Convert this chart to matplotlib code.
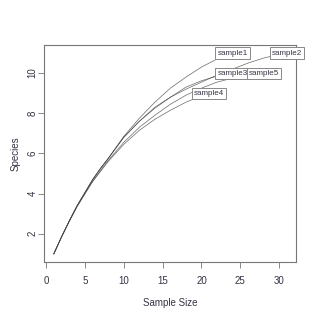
import matplotlib
matplotlib.use("Agg")
import matplotlib.pyplot as plt

plt.rcParams['font.family'] = ['Liberation Sans', 'DejaVu Sans']

# Rarefaction curves (sample size -> expected species)
names = ["sample1", "sample2", "sample3", "sample4", "sample5"]
x1 = [1, 2, 3, 4, 5, 6, 7, 8, 10, 12, 14, 16, 18, 20, 22, 24]
y1 = [1, 1.85, 2.65, 3.4, 4.05, 4.7, 5.25, 5.75, 6.85, 7.75, 8.55, 9.25, 9.8, 10.3, 10.7, 11.0]
x2 = [1, 2, 3, 4, 5, 6, 7, 8, 10, 12, 14, 16, 18, 20, 22, 24, 26, 28, 30, 31]
y2 = [1, 1.85, 2.65, 3.4, 4.05, 4.7, 5.25, 5.75, 6.8, 7.6, 8.3, 8.8, 9.2, 9.55, 9.9, 10.2, 10.5, 10.75, 10.93, 11.0]
x3 = [1, 2, 3, 4, 5, 6, 7, 8, 10, 12, 14, 16, 18, 20, 22, 24]
y3 = [1, 1.85, 2.65, 3.4, 4.05, 4.7, 5.25, 5.75, 6.8, 7.6, 8.25, 8.8, 9.3, 9.62, 9.85, 10.0]
x4 = [1, 2, 3, 4, 5, 6, 7, 8, 10, 12, 14, 16, 18, 20, 21]
y4 = [1, 1.85, 2.62, 3.35, 3.98, 4.6, 5.1, 5.6, 6.45, 7.15, 7.7, 8.15, 8.55, 8.87, 9.0]
x5 = [1, 2, 3, 4, 5, 6, 7, 8, 10, 12, 14, 16, 18, 20, 22, 24, 26, 28]
y5 = [1, 1.85, 2.63, 3.38, 4.0, 4.62, 5.15, 5.65, 6.55, 7.3, 7.9, 8.45, 8.9, 9.25, 9.55, 9.75, 9.9, 10.0]

xs = [x1, x2, x3, x4, x5]
ys = [y1, y2, y3, y4, y5]

xticks = [0, 5, 10, 15, 20, 25, 30]
yticks = [2, 4, 6, 8, 10]

fig = plt.figure(figsize=(3.2, 3.19), dpi=100)
ax = fig.add_axes([0.139, 0.179, 0.787, 0.680])

for x, y in zip(xs, ys):
    ax.plot(x, y, color="#444444", lw=0.5, alpha=0.8)

for name, x, y in zip(names, xs, ys):
    ax.text(x[-1], y[-1], name, ha="center", va="center", fontsize=5.8, color="#333344",
            bbox=dict(boxstyle="square,pad=0.25", fc="white", ec="#888888", lw=0.7))

ax.set_xlim(-0.2, 32.2)
ax.set_ylim(0.6, 11.4)
ax.set_xticks(xticks)
ax.set_yticks(yticks)
ax.set_xticklabels([str(t) for t in xticks], color="#333344", fontsize=7)
ax.set_yticklabels([str(t) for t in yticks], color="#333344", fontsize=7, rotation=90, va="center")
ax.tick_params(axis="both", length=4, width=0.7, color="#888888")
ax.tick_params(axis="x", pad=6)
ax.tick_params(axis="y", pad=1)
for s in ax.spines.values():
    s.set_color("#777777")
    s.set_linewidth(0.8)
ax.set_xlabel("Sample Size", fontsize=7, color="#333344", labelpad=9)
ax.set_ylabel("Species", fontsize=7, color="#333344", labelpad=5)

fig.savefig("out.png", dpi=100)
